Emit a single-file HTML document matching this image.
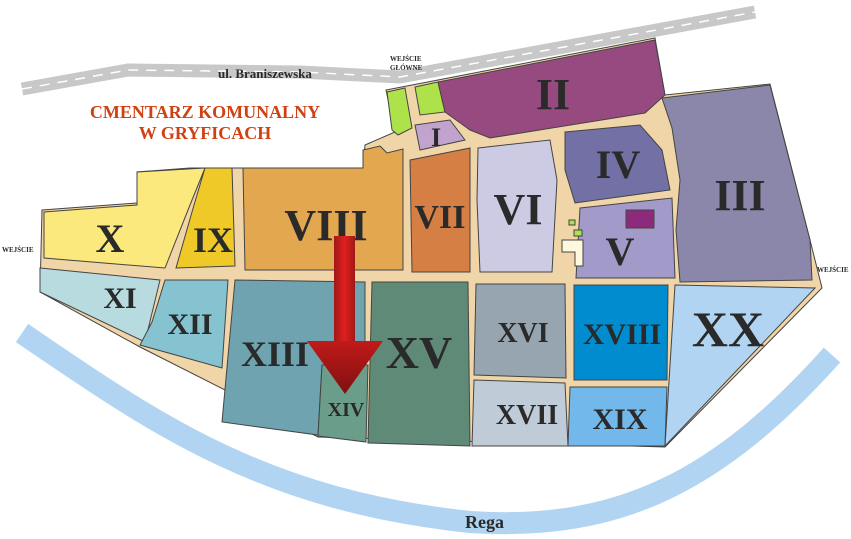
<!DOCTYPE html>
<html><head><meta charset="utf-8"><style>
html,body{margin:0;padding:0;background:#fff;}
svg{display:block;}
text{font-family:"Liberation Serif",serif;font-weight:bold;fill:#2a2a2a;}
</style></head><body>
<svg width="851" height="539" viewBox="0 0 851 539" xmlns="http://www.w3.org/2000/svg">
<defs>
<linearGradient id="ar" x1="0" x2="1" y1="0" y2="0"><stop offset="0" stop-color="#a01818"/><stop offset="0.5" stop-color="#e02020"/><stop offset="1" stop-color="#a01818"/></linearGradient>
<linearGradient id="ah" x1="0" x2="0" y1="0" y2="1"><stop offset="0" stop-color="#c01a1a"/><stop offset="1" stop-color="#801010"/></linearGradient>
</defs>
<!-- road -->
<path d="M22,89 L128,70 L300,72 L400,77 L755,12" fill="none" stroke="#c8c8c8" stroke-width="13"/>
<path d="M22,89 L128,70 L300,72 L400,77 L755,12" fill="none" stroke="#fff" stroke-width="1.5" stroke-dasharray="10,8"/>
<text x="218" y="78" font-size="13" fill="#333">ul. Braniszewska</text>
<!-- river -->
<path d="M22,333 C150,420 260,500 470,522 C620,532 720,480 832,355" fill="none" stroke="#b0d4f2" stroke-width="22"/>
<text x="465" y="528" font-size="18">Rega</text>
<!-- title -->
<text x="205" y="118" font-size="18" text-anchor="middle" style="fill:#d04010">CMENTARZ  KOMUNALNY</text>
<text x="205" y="139" font-size="18" text-anchor="middle" style="fill:#d04010">W GRYFICACH</text>
<text x="390" y="61" font-size="7">WEJŚCIE</text>
<text x="390" y="70" font-size="7">GŁÓWNE</text>
<text x="2" y="252" font-size="7">WEJŚCIE</text>
<text x="817" y="272" font-size="7">WEJŚCIE</text>
<!-- base -->
<path d="M42,210 L137,203 L137,172 L190,168 L363,168 L365,145 L395,132 L386,90 L438,80 L655,38 L665,95 L770,84 L810,240 L822,288 L665,447 L318,437 L140,347 L40,292 Z" fill="#f0d5a8" stroke="#444" stroke-width="1"/>
<g stroke="#444" stroke-width="1">
<polygon points="44,212 137,205 137,172 205,168 190,205 165,268 44,258" fill="#fbe97d"/>
<polygon points="205,168 232,168 235,266 176,268 194,205" fill="#efc927"/>
<polygon points="243,168 363,168 363,150 380,146 387,153 403,149 403,270 245,270" fill="#e3a84f"/>
<polygon points="410,160 470,148 470,272 412,272" fill="#d57f45"/>
<polygon points="415,125 450,120 465,140 420,150" fill="#c2a3cd"/>
<polygon points="387,92 405,88 412,128 398,135 392,130" fill="#aee24a"/>
<polygon points="415,87 438,82 445,112 420,115" fill="#aee24a"/>
<polygon points="438,82 655,40 665,95 645,113 490,138 470,130 445,112" fill="#974a80"/>
<polygon points="662,98 770,85 810,240 812,280 680,282 676,230 680,180 672,128" fill="#8b87ab"/>
<polygon points="565,132 640,125 662,150 670,190 575,203 565,170" fill="#7370a6"/>
<polygon points="580,208 672,198 675,278 576,278" fill="#a29bc9"/>
<polygon points="478,148 550,140 557,180 552,272 480,272 477,200" fill="#cdcbe4"/>
<polygon points="40,268 160,280 145,342 40,292" fill="#b8dbe0"/>
<polygon points="165,280 228,280 222,368 140,345 152,322" fill="#84c3cf"/>
<polygon points="235,280 365,282 365,365 322,365 318,435 222,422" fill="#6fa3b0"/>
<polygon points="322,365 368,365 366,442 318,436" fill="#6a9e8a"/>
<polygon points="372,282 468,282 470,446 368,443" fill="#5f8a78"/>
<polygon points="476,284 565,284 566,378 474,375" fill="#96a5b0"/>
<polygon points="474,380 565,383 568,446 472,446" fill="#bfccd8"/>
<polygon points="574,285 668,285 667,380 574,380" fill="#008ccf"/>
<polygon points="570,387 667,387 665,446 568,446" fill="#72b8ea"/>
<polygon points="675,285 815,288 665,446" fill="#b0d4f2"/>
<rect x="626" y="210" width="28" height="18" fill="#8e2a7c"/>
<polygon points="562,240 583,240 583,266 575,266 575,252 562,252" fill="#fff8de"/>
<rect x="569" y="220" width="6" height="5" fill="#aee24a"/>
<rect x="574" y="230" width="8" height="6" fill="#aee24a"/>
</g>
<!-- labels -->
<text x="110" y="252" font-size="40" text-anchor="middle">X</text>
<text x="213" y="252" font-size="36" text-anchor="middle">IX</text>
<text x="326" y="240" font-size="44" text-anchor="middle">VIII</text>
<text x="440" y="228" font-size="34" text-anchor="middle">VII</text>
<text x="436" y="146" font-size="26" text-anchor="middle">I</text>
<text x="553" y="109" font-size="44" text-anchor="middle">II</text>
<text x="740" y="210" font-size="44" text-anchor="middle">III</text>
<text x="618" y="178" font-size="40" text-anchor="middle">IV</text>
<text x="620" y="265" font-size="40" text-anchor="middle">V</text>
<text x="518" y="224" font-size="44" text-anchor="middle">VI</text>
<text x="120" y="308" font-size="30" text-anchor="middle">XI</text>
<text x="190" y="334" font-size="30" text-anchor="middle">XII</text>
<text x="275" y="366" font-size="36" text-anchor="middle">XIII</text>
<text x="419" y="368" font-size="46" text-anchor="middle">XV</text>
<text x="523" y="342" font-size="28" text-anchor="middle">XVI</text>
<text x="527" y="424" font-size="28" text-anchor="middle">XVII</text>
<text x="622" y="344" font-size="30" text-anchor="middle">XVIII</text>
<text x="620" y="429" font-size="30" text-anchor="middle">XIX</text>
<text x="728" y="346" font-size="50" text-anchor="middle">XX</text>
<!-- arrow -->
<rect x="334" y="236" width="21" height="106" fill="url(#ar)"/>
<polygon points="307,341 383,341 345,394" fill="url(#ah)"/>
<text x="346" y="416" font-size="20" text-anchor="middle">XIV</text>
</svg>
</body></html>
